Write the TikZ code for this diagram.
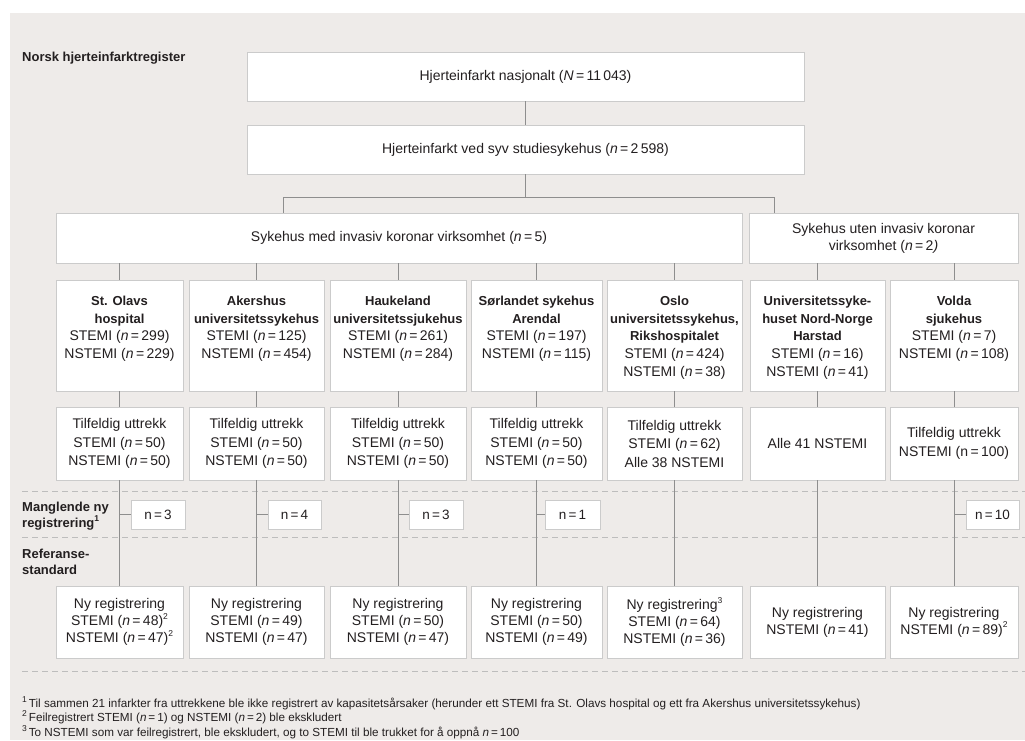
\documentclass[tikz,border=0pt]{standalone}
\usepackage{fontspec}
\setmainfont{Liberation Sans}
\definecolor{bgc}{HTML}{EEEBE9}
\definecolor{bordc}{HTML}{CBCBCB}
\definecolor{linec}{HTML}{8E8E8E}
\definecolor{dashc}{HTML}{BDBDBD}
\definecolor{txt}{HTML}{231F20}
\newcommand\nval[1]{(\textit{n}\,=\,#1)}
\newcommand\nvalup[1]{(n\,=\,#1)}
\newcommand\hb[1]{{\fontsize{13}{17}\selectfont\bfseries #1}}
\newcommand\supr[1]{\raisebox{0.45em}{\fontsize{8.5}{9}\selectfont #1}}
\begin{document}
\begin{tikzpicture}[x=1pt,y=-1pt,
  box/.style={draw=bordc, fill=white, line width=0.8pt, align=center, inner sep=0pt,
    text=txt, font=\fontsize{14}{17}\selectfont},
  hbox/.style={draw=bordc, fill=white, line width=0.8pt, inner sep=0pt,
    minimum height=111pt},
  htxt/.style={anchor=north, align=center, inner sep=0pt, text=txt,
    font=\fontsize{14}{17.8}\selectfont},
  sbox/.style={box, font=\fontsize{14}{18.5}\selectfont},
  fbox/.style={box, font=\fontsize{14}{17}\selectfont},
  mbox/.style={box, font=\fontsize{13.5}{16}\selectfont, minimum height=29pt},
  conn/.style={draw=linec, line width=0.8pt},
  sep/.style={draw=dashc, line width=0.8pt, dash pattern=on 6pt off 4pt},
  lab/.style={anchor=west, align=left, inner sep=0pt, text=txt, font=\fontsize{13}{16}\selectfont\bfseries}
]
\useasboundingbox (0,0) rectangle (1025,740);
\fill[white] (0,0) rectangle (1025,740);
\fill[bgc] (10,13) rectangle (1025,740);

% dashed separators
\draw[sep] (22,491.5) -- (1025,491.5);
\draw[sep] (22,537) -- (1025,537);
\draw[sep] (22,671) -- (1025,671);

% left labels
\node[lab] (lab1) at (22,58) {Norsk hjerteinfarktregister};
\node[lab] (lab2) at (22,516) {Manglende ny\\registrering\supr{1}};
\node[lab] (lab3) at (22,562) {Referanse-\\standard};

% top boxes
\node[box, minimum width=557pt, minimum height=49pt] (top1) at (525.5,76.5)
  {Hjerteinfarkt nasjonalt (\textit{N}\,=\,11\,043)};
\node[box, minimum width=557pt, minimum height=49pt] (top2) at (525.5,149.5)
  {Hjerteinfarkt ved syv studiesykehus \nval{2\,598}};

% group boxes
\node[box, minimum width=686pt, minimum height=50pt] (grp1) at (399,238)
  {Sykehus med invasiv koronar virksomhet \nval{5}};
\node[box, minimum width=269pt, minimum height=50pt] (grp2) at (883.5,238)
  {Sykehus uten invasiv koronar\\virksomhet (\textit{n}\,=\,2\textit{)}};

% hospital boxes
\node[hbox, minimum width=127pt] (h1) at (119.5,335.5) {};
\node[hbox, minimum width=135pt] (h2) at (256.5,335.5) {};
\node[hbox, minimum width=136pt] (h3) at (398,335.5) {};
\node[hbox, minimum width=131pt] (h4) at (536.5,335.5) {};
\node[hbox, minimum width=135pt] (h5) at (674.5,335.5) {};
\node[hbox, minimum width=135pt] (h6) at (817.5,335.5) {};
\node[hbox, minimum width=128pt] (h7) at (954,335.5) {};
\node[htxt] (h1t) at ([yshift=-16pt]h1.north)
  {\hb{St. Olavs}\\\hb{hospital}\\STEMI \nval{299}\\NSTEMI \nval{229}};
\node[htxt] (h2t) at ([yshift=-16pt]h2.north)
  {\hb{Akershus}\\\hb{universitetssykehus}\\STEMI \nval{125}\\NSTEMI \nval{454}};
\node[htxt] (h3t) at ([yshift=-16pt]h3.north)
  {\hb{Haukeland}\\\hb{universitetssjukehus}\\STEMI \nval{261}\\NSTEMI \nval{284}};
\node[htxt] (h4t) at ([yshift=-16pt]h4.north)
  {\hb{Sørlandet sykehus}\\\hb{Arendal}\\STEMI \nval{197}\\NSTEMI \nval{115}};
\node[htxt] (h5t) at ([yshift=-16pt]h5.north)
  {\hb{Oslo}\\\hb{universitetssykehus,}\\\hb{Rikshospitalet}\\STEMI \nval{424}\\NSTEMI \nval{38}};
\node[htxt] (h6t) at ([yshift=-16pt]h6.north)
  {\hb{Universitetssyke-}\\\hb{huset Nord-Norge}\\\hb{Harstad}\\STEMI \nval{16}\\NSTEMI \nval{41}};
\node[htxt] (h7t) at ([yshift=-16pt]h7.north)
  {\hb{Volda}\\\hb{sjukehus}\\STEMI \nval{7}\\NSTEMI \nval{108}};

% sample boxes
\node[sbox, minimum width=127pt, minimum height=73pt] (s1) at (119.5,443.5)
  {Tilfeldig uttrekk\\STEMI \nval{50}\\NSTEMI \nval{50}};
\node[sbox, minimum width=135pt, minimum height=73pt] (s2) at (256.5,443.5)
  {Tilfeldig uttrekk\\STEMI \nval{50}\\NSTEMI \nval{50}};
\node[sbox, minimum width=136pt, minimum height=73pt] (s3) at (398,443.5)
  {Tilfeldig uttrekk\\STEMI \nval{50}\\NSTEMI \nval{50}};
\node[sbox, minimum width=131pt, minimum height=73pt] (s4) at (536.5,443.5)
  {Tilfeldig uttrekk\\STEMI \nval{50}\\NSTEMI \nval{50}};
\node[sbox, minimum width=135pt, minimum height=73pt] (s5) at (674.5,443.5)
  {Tilfeldig uttrekk\\STEMI \nval{62}\\Alle 38 NSTEMI};
\node[sbox, minimum width=135pt, minimum height=73pt] (s6) at (817.5,443.5)
  {Alle 41 NSTEMI};
\node[sbox, minimum width=128pt, minimum height=73pt] (s7) at (954,443.5)
  {Tilfeldig uttrekk\\NSTEMI \nvalup{100}};

% missing boxes
\node[mbox, minimum width=54pt] (m1) at (158,514.5) {n\,=\,3};
\node[mbox, minimum width=53pt] (m2) at (294.5,514.5) {n\,=\,4};
\node[mbox, minimum width=54pt] (m3) at (436,514.5) {n\,=\,3};
\node[mbox, minimum width=55pt] (m4) at (572.5,514.5) {n\,=\,1};
\node[mbox, minimum width=53pt] (m7) at (992.5,514.5) {n\,=\,10};

% final boxes
\node[fbox, minimum width=127pt, minimum height=72pt] (f1) at (119.5,622)
  {Ny registrering\\STEMI \nval{48}\supr{2}\\NSTEMI \nval{47}\supr{2}};
\node[fbox, minimum width=135pt, minimum height=72pt] (f2) at (256.5,622)
  {Ny registrering\\STEMI \nval{49}\\NSTEMI \nval{47}};
\node[fbox, minimum width=136pt, minimum height=72pt] (f3) at (398,622)
  {Ny registrering\\STEMI \nval{50}\\NSTEMI \nval{47}};
\node[fbox, minimum width=131pt, minimum height=72pt] (f4) at (536.5,622)
  {Ny registrering\\STEMI \nval{50}\\NSTEMI \nval{49}};
\node[fbox, minimum width=135pt, minimum height=72pt] (f5) at (674.5,622)
  {Ny registrering\supr{3}\\STEMI \nval{64}\\NSTEMI \nval{36}};
\node[fbox, minimum width=135pt, minimum height=72pt] (f6) at (817.5,622)
  {Ny registrering\\NSTEMI \nval{41}};
\node[fbox, minimum width=128pt, minimum height=72pt] (f7) at (954,622)
  {Ny registrering\\NSTEMI \nval{89}\supr{2}};

% connectors
\coordinate (j) at (525.5,197);
\coordinate (jl) at (283,197);
\coordinate (jr) at (774,197);
\draw[conn] (top1.south) -- (top2.north);
\draw[conn] (top2.south) -- (j);
\draw[conn] (jl) -- (jr);
\draw[conn] (jl) -- (jl |- grp1.north);
\draw[conn] (jr) -- (jr |- grp2.north);
\foreach \i in {1,...,5} {
  \draw[conn] (h\i.north |- grp1.south) -- (h\i.north);
}
\foreach \i in {6,7} {
  \draw[conn] (h\i.north |- grp2.south) -- (h\i.north);
}
\foreach \i in {1,...,7} {
  \draw[conn] (h\i.south) -- (s\i.north);
  \draw[conn] (s\i.south) -- (f\i.north);
}
\foreach \i in {1,2,3,4,7} {
  \draw[conn] (s\i.south |- m\i.west) -- (m\i.west);
}

% footnotes
\node[anchor=north west, align=left, inner sep=0pt, text=txt,
  font=\fontsize{11.7}{13.6}\selectfont] (fn) at (22,696)
  {\supr{1}\,Til sammen 21 infarkter fra uttrekkene ble ikke registrert av kapasitetsårsaker (herunder ett STEMI fra St. Olavs hospital og ett fra Akershus universitetssykehus)\\
   \supr{2}\,Feilregistrert STEMI \nval{1} og NSTEMI \nval{2} ble ekskludert\\
   \supr{3}\,To NSTEMI som var feilregistrert, ble ekskludert, og to STEMI til ble trukket for å oppnå \textit{n}\,=\,100};
\end{tikzpicture}
\end{document}
